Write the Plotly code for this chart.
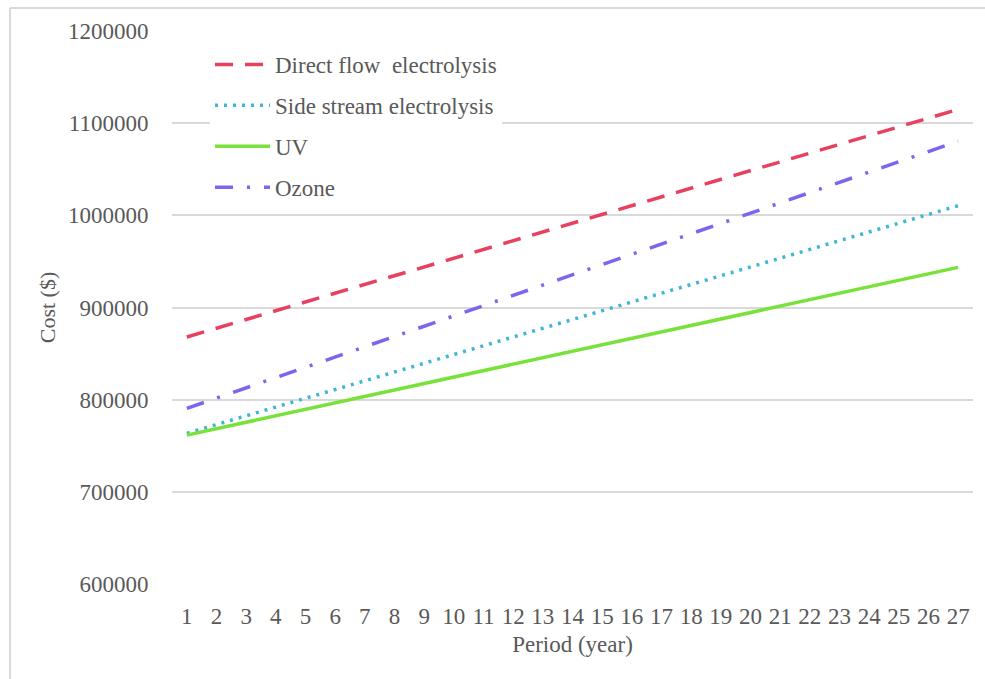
import plotly.graph_objects as go

# Period in years (category axis labels)
years = [str(i) for i in range(1, 28)]

# Cumulative cost ($) for each disinfection option
direct_flow = [868000, 877500, 887000, 896500, 906000, 915500, 925000, 934500, 944000,
               953500, 963000, 972500, 982000, 991500, 1001000, 1010500, 1020000, 1029500,
               1039000, 1048500, 1058000, 1067500, 1077000, 1086500, 1096000, 1105500, 1115000]
side_stream = [763500, 773000, 782500, 792000, 801500, 811000, 820500, 830000, 839500,
               849000, 858500, 868000, 877500, 887000, 896500, 906000, 915500, 925000,
               934500, 944000, 953500, 963000, 972500, 982000, 991500, 1001000, 1010500]
uv = [761500, 768500, 775500, 782500, 789500, 796500, 803500, 810500, 817500,
      824500, 831500, 838500, 845500, 852500, 859500, 866500, 873500, 880500,
      887500, 894500, 901500, 908500, 915500, 922500, 929500, 936500, 943500]
ozone = [790500, 801650, 812800, 823950, 835100, 846250, 857400, 868550, 879700,
         890850, 902000, 913150, 924300, 935450, 946600, 957750, 968900, 980050,
         991200, 1002350, 1013500, 1024650, 1035800, 1046950, 1058100, 1069250, 1080400]

y_ticks = [600000, 700000, 800000, 900000, 1000000, 1100000, 1200000]

FONT = "Liberation Serif, Times New Roman, serif"
TXT = "#595959"
FS = 23

fig = go.Figure()
fig.add_trace(go.Scatter(x=years, y=direct_flow, mode="lines", legendgroup="a",
                         name="Direct flow  electrolysis",
                         line=dict(color="#e8405f", width=3.5, dash="18px,12px")))
fig.add_trace(go.Scatter(x=years, y=side_stream, mode="lines", legendgroup="b",
                         name="Side stream electrolysis",
                         line=dict(color="#3fb6d3", width=3.5, dash="3px,6px")))
fig.add_trace(go.Scatter(x=years, y=uv, mode="lines", name="UV", legendgroup="c",
                         line=dict(color="#78e23a", width=3.5)))
fig.add_trace(go.Scatter(x=years, y=ozone, mode="lines", name="Ozone", legendgroup="d",
                         line=dict(color="#7b66ee", width=3.5, dash="18px,14px,3px,14px")))

L, R, T, B = 172, 12, 31, 95
W, H = 985, 679
pw, ph = W - L - R, H - T - B

fig.update_layout(
    width=W, height=H,
    margin=dict(l=L, r=R, t=T, b=B),
    paper_bgcolor="white", plot_bgcolor="white",
    font=dict(family=FONT, size=FS, color=TXT),
    showlegend=True,
    legend=dict(x=(210 - L) / pw, y=1 - (43 - T) / ph, xanchor="left", yanchor="top",
                bgcolor="white", font=dict(family=FONT, size=FS, color=TXT),
                tracegroupgap=8, itemwidth=55),
    xaxis=dict(type="category", range=[-0.5, 26.5], showgrid=False, zeroline=False,
               showline=False, ticks="outside", ticklen=11, tickcolor="rgba(0,0,0,0)",
               tickfont=dict(family=FONT, size=FS, color=TXT),
               title=dict(text="Period (year)", standoff=8,
                          font=dict(family=FONT, size=FS, color=TXT))),
    yaxis=dict(range=[600000, 1200000], tickvals=y_ticks,
               ticktext=[str(v) for v in y_ticks],
               showgrid=True, gridcolor="#d9d9d9", gridwidth=1.5, zeroline=False,
               showline=False, ticks="outside", ticklen=18, tickcolor="rgba(0,0,0,0)",
               tickfont=dict(family=FONT, size=FS, color=TXT),
               title=dict(text="Cost ($)", standoff=6,
                          font=dict(family=FONT, size=22, color=TXT))),
    shapes=[
        # light frame around the chart area
        dict(type="line", xref="paper", yref="paper",
             x0=(10 - L) / pw, x1=(10 - L) / pw, y0=(T - 8) / ph + 1, y1=-(B + 10) / ph,
             line=dict(color="#d9d9d9", width=2)),
        dict(type="line", xref="paper", yref="paper",
             x0=(10 - L) / pw, x1=1 + (R + 10) / pw, y0=1 + (T - 8) / ph, y1=1 + (T - 8) / ph,
             line=dict(color="#d9d9d9", width=2)),
    ],
)

fig.write_html("out.html")
